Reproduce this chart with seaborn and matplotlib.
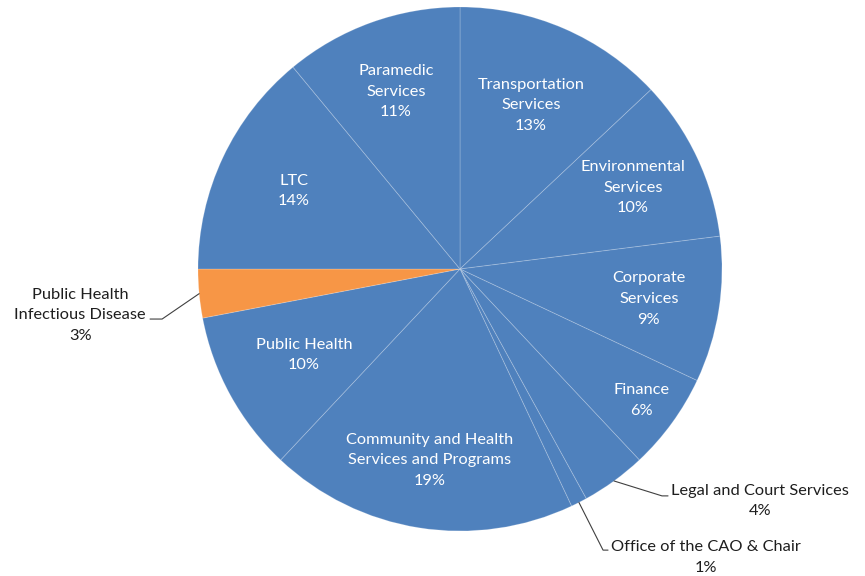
import numpy as np
import matplotlib
matplotlib.use("Agg")
import matplotlib.pyplot as plt
import seaborn as sns

# Budget share by department (percent), clockwise from 12 o'clock
departments = [
    "Transportation\nServices",
    "Environmental\nServices",
    "Corporate\nServices",
    "Finance",
    "Legal and Court Services",
    "Office of the CAO & Chair",
    "Community and Health\nServices and Programs",
    "Public Health",
    "Public Health\nInfectious Disease",
    "LTC",
    "Paramedic\nServices",
]
shares = [13, 10, 9, 6, 4, 1, 19, 10, 3, 14, 11]
highlight = "Public Health\nInfectious Disease"

BLUE = "#4F81BD"
ORANGE = "#F79646"

sns.set_theme(style="white")
plt.rcParams["font.family"] = ["Lato", "DejaVu Sans"]

fig = plt.figure(figsize=(8.65, 5.76), dpi=100)
W, H = 865, 576
cx, cy, R = 460, 269, 262
ax = fig.add_axes([(cx - R) / W, (H - cy - R) / H, 2 * R / W, 2 * R / H])

colors = [ORANGE if d == highlight else BLUE for d in departments]
wedges, _ = ax.pie(
    shares,
    colors=colors,
    startangle=90,
    counterclock=False,
    radius=1.0,
    wedgeprops=dict(edgecolor=(1, 1, 1, 0.2), linewidth=0.7),
)
ax.set_xlim(-1, 1)
ax.set_ylim(-1, 1)
ax.set_aspect("equal")
ax.axis("off")

# Label placement: inside labels sit at a fraction of the radius,
# outside labels get a leader line to an elbow and a text anchor.
inside_radius = {
    "Transportation\nServices": 0.68,
    "Environmental\nServices": 0.73,
    "Corporate\nServices": 0.73,
    "Finance": 0.855,
    "Community and Health\nServices and Programs": 0.74,
    "Public Health": 0.68,
    "LTC": 0.70,
    "Paramedic\nServices": 0.72,
}
# (elbow, line end, text center) in axes data units
outside_layout = {
    "Legal and Court Services": ((0.771, -0.866), (0.794, -0.866), (1.145, -0.885)),
    "Office of the CAO & Chair": ((0.546, -1.073), (0.565, -1.073), (0.939, -1.100)),
    "Public Health\nInfectious Disease": ((-1.137, -0.191), (-1.183, -0.191), (-1.450, -0.176)),
}

FS = 11.8
LS = 1.6
for w, name, val in zip(wedges, departments, shares):
    mid = np.deg2rad((w.theta1 + w.theta2) / 2)
    label = f"{name}\n{val:.0f}%"
    if name in inside_radius:
        r = inside_radius[name]
        ax.text(r * np.cos(mid), r * np.sin(mid), label, ha="center", va="center",
                color="white", fontsize=FS, linespacing=LS, multialignment="center")
    else:
        elbow, end, tpos = outside_layout[name]
        edge = (np.cos(mid), np.sin(mid))
        ax.plot([edge[0], elbow[0], end[0]], [edge[1], elbow[1], end[1]],
                color="#404040", lw=0.8, clip_on=False)
        ax.text(tpos[0], tpos[1], label, ha="center", va="center",
                color="#1e1e1e", fontsize=FS, linespacing=LS, multialignment="center")

fig.savefig("out.png", dpi=100, facecolor="white")
